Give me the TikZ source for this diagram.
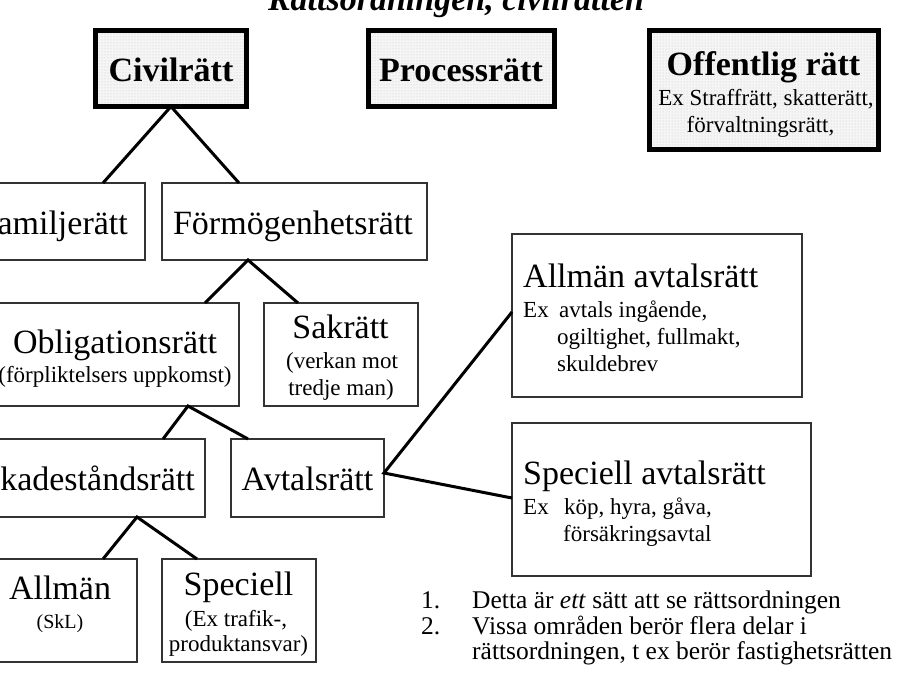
\documentclass[tikz,border=0pt]{standalone}
\usepackage{fontspec}
\setmainfont{Liberation Serif}
\usetikzlibrary{calc,patterns}
\begin{document}
\begin{tikzpicture}[x=1pt,y=-1pt,
  topbox/.style={draw=black, line width=5pt, fill=black!4, anchor=north west, inner sep=0pt, outer sep=0pt},
  dotfill/.style={pattern=dots, pattern color=black!22},
  plainbox/.style={draw=black!80, line width=1.3pt, fill=white, anchor=north west, inner sep=0pt, outer sep=0pt},
  conn/.style={line width=3pt, line join=miter},
  txt/.style={inner sep=0pt, anchor=base},
  txtw/.style={inner sep=0pt, anchor=base west},
  big/.style={font=\fontsize{34}{40}\selectfont},
  bigb/.style={font=\fontsize{34}{40}\selectfont\bfseries},
  sml/.style={font=\fontsize{23}{27}\selectfont},
  lst/.style={font=\fontsize{25.5}{30}\selectfont}
]
\useasboundingbox (0,0) rectangle (921,691);
\clip (0,0) rectangle (921,691);
\fill[white] (0,0) rectangle (921,691);

% title (cut off at the top)
\node[txt, font=\fontsize{34}{40}\selectfont\bfseries\itshape] (title) at (456,10) {Rättsordningen, civilrätten};

% top boxes
\node[topbox, minimum width=151pt, minimum height=76pt] (civ) at (95.5,30.5) {};
\node[topbox, minimum width=186pt, minimum height=76pt] (proc) at (368.5,30.5) {};
\node[topbox, minimum width=229pt, minimum height=119pt] (off) at (649.5,30.5) {};
\fill[dotfill] (civ.south west) rectangle (civ.north east);
\fill[dotfill] (proc.south west) rectangle (proc.north east);
\fill[dotfill] (off.south west) rectangle (off.north east);
\draw[line width=5pt] (civ.south west) rectangle (civ.north east);
\draw[line width=5pt] (proc.south west) rectangle (proc.north east);
\draw[line width=5pt] (off.south west) rectangle (off.north east);

% plain boxes
\node[plainbox, minimum width=183pt, minimum height=77pt] (fam) at (-38,183) {};
\node[plainbox, minimum width=265pt, minimum height=77pt] (form) at (162,183) {};
\node[plainbox, minimum width=248pt, minimum height=103pt] (obl) at (-9,303) {};
\node[plainbox, minimum width=154pt, minimum height=103pt] (sak) at (264,303) {};
\node[plainbox, minimum width=233pt, minimum height=78pt] (skad) at (-28,439) {};
\node[plainbox, minimum width=153pt, minimum height=78pt] (avt) at (231,439) {};
\node[plainbox, minimum width=154pt, minimum height=103pt] (allm) at (-17,559) {};
\node[plainbox, minimum width=154pt, minimum height=103pt] (spec) at (162,559) {};
\node[plainbox, minimum width=290pt, minimum height=163pt] (allav) at (512,234) {};
\node[plainbox, minimum width=299pt, minimum height=153pt] (specav) at (512,423) {};

% connectors
\draw[conn] ($(fam.north west)+(141,0)$) -- (civ.south) -- ($(form.north west)+(77,0)$);
\draw[conn] ($(obl.north west)+(214,0)$) -- ($(form.south west)+(86,0)$) -- ($(sak.north west)+(34,0)$);
\draw[conn] ($(skad.north west)+(191,0)$) -- ($(obl.south west)+(197,0)$) -- ($(avt.north west)+(17,0)$);
\draw[conn] ($(allm.north west)+(120,0)$) -- ($(skad.south west)+(165,0)$) -- ($(spec.north west)+(35,0)$);
\draw[conn] ($(allav.north west)+(0,78)$) -- ($(avt.north east)+(0,34)$) -- ($(specav.north west)+(0,75)$);

% texts of top boxes
\node[txt, bigb] (civT) at (171,81) {Civilrätt};
\node[txt, bigb] (procT) at (461,81) {Processrätt};
\node[txt, bigb] (offT) at (763.5,75) {Offentlig rätt};
\node[txt, sml] (offS1) at (766,105) {Ex Straffrätt, skatterätt,};
\node[txt, sml] (offS2) at (760.5,132) {förvaltningsrätt,};

% texts of the tree
\node[inner sep=0pt, anchor=base east, big] (famT) at (128,234) {Familjerätt};
\node[txt, big] (formT) at (293,234) {Förmögenhetsrätt};
\node[txt, big] (oblT) at (115,353) {Obligationsrätt};
\node[txt, sml] (oblS) at (115,382) {(förpliktelsers uppkomst)};
\node[txt, big] (sakT) at (340.5,338) {Sakrätt};
\node[txt, sml] (sakS1) at (342,368) {(verkan mot};
\node[txt, sml] (sakS2) at (341,395) {tredje man)};
\node[inner sep=0pt, anchor=base east, big] (skadT) at (195,490) {Skadeståndsrätt};
\node[txt, big] (avtT) at (307.5,490) {Avtalsrätt};
\node[txt, big] (allmT) at (60,599) {Allmän};
\node[txt, font=\fontsize{20}{24}\selectfont] (allmS) at (60,628) {(SkL)};
\node[txt, big] (specT) at (238.5,595) {Speciell};
\node[txt, sml] (specS1) at (236,626) {(Ex trafik-,};
\node[txt, sml] (specS2) at (238.5,651) {produktansvar)};

% right boxes
\node[txtw, big] (allavT) at (523,287) {Allmän avtalsrätt};
\node[txtw, sml] (allavEx) at (523,317) {Ex};
\node[txtw, sml] (allavS1) at (559,317) {avtals ingående,};
\node[txtw, sml] (allavS2) at (557,344) {ogiltighet, fullmakt,};
\node[txtw, sml] (allavS3) at (557,371) {skuldebrev};
\node[txtw, big] (specavT) at (523,484) {Speciell avtalsrätt};
\node[txtw, sml] (specavEx) at (523,514) {Ex};
\node[txtw, sml] (specavS1) at (564,514) {köp, hyra, gåva,};
\node[txtw, sml] (specavS2) at (563,541) {försäkringsavtal};

% list
\node[txtw, lst] (n1) at (421,608) {1.};
\node[txtw, lst] (l1) at (472,608) {Detta är \textit{ett} sätt att se rättsordningen};
\node[txtw, lst] (n2) at (421,634) {2.};
\node[txtw, lst] (l2) at (472,634) {Vissa områden berör flera delar i};
\node[txtw, lst] (l3) at (472,659) {rättsordningen, t ex berör fastighetsrätten};
\end{tikzpicture}
\end{document}
